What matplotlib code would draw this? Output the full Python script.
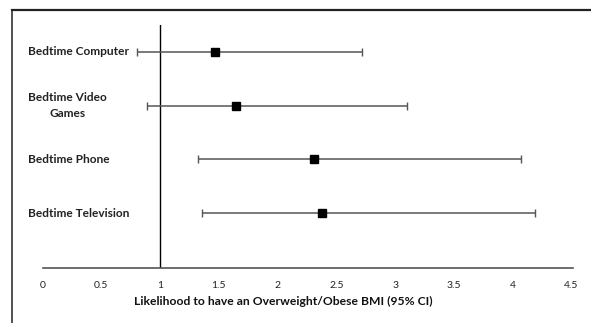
import matplotlib.pyplot as plt
from matplotlib.lines import Line2D

# forest plot data: odds ratio with 95% CI
labels = ['Bedtime Computer', 'Bedtime Video\nGames', 'Bedtime Phone', 'Bedtime Television']
odds = [1.47, 1.65, 2.31, 2.38]
ci_low = [0.80, 0.89, 1.32, 1.36]
ci_high = [2.72, 3.10, 4.07, 4.19]
xticks = [0, 0.5, 1, 1.5, 2, 2.5, 3, 3.5, 4, 4.5]

fig = plt.figure(figsize=(5.91, 3.23), dpi=100)
ax = fig.add_axes([42.7 / 591, 1 - 268 / 323, (573 - 42.7) / 591, (268 - 25) / 323])

ypos = [4, 3, 2, 1]
xerr = [[o - l for o, l in zip(odds, ci_low)], [h - o for o, h in zip(odds, ci_high)]]
ax.errorbar(odds, ypos, xerr=xerr, fmt='s', color='black', markersize=6.3,
            ecolor='#555555', elinewidth=1.1, capsize=3.2, capthick=1.0, zorder=3)

ax.axvline(1, color='black', linewidth=1.0, zorder=2)
ax.set_xlim(0, 4.515)
ax.set_ylim(-0.02, 4.5)

for s in ['top', 'right', 'left']:
    ax.spines[s].set_visible(False)
ax.spines['bottom'].set_color('#555555')
ax.spines['bottom'].set_linewidth(1.2)

ax.set_yticks([])
ax.set_xticks(xticks)
ax.set_xticklabels([f'{t:g}' for t in xticks], fontsize=7.5, family='Lato', color='#222222')
ax.tick_params(axis='x', length=0, pad=9)

for lab, y in zip(labels, ypos):
    ax.text(28 / 591, ax.transData.transform((0, y))[1] / fig.bbox.height, lab,
            transform=fig.transFigure, ha='left', va='center', multialignment='center',
            fontsize=8.6, fontweight='bold', family='Lato', color='#222222', linespacing=1.6)

fig.text(283 / 591, 1 - 301 / 323, 'Likelihood to have an Overweight/Obese BMI (95% CI)',
         ha='center', va='center', fontsize=8.7, fontweight='bold', family='Lato', color='#111111')

# outer frame (left and top edges only)
fig.add_artist(Line2D([12 / 591, 12 / 591], [0, 1 - 10 / 323], transform=fig.transFigure,
                      color='#333333', linewidth=1.2))
fig.add_artist(Line2D([12 / 591, 1], [1 - 10 / 323, 1 - 10 / 323], transform=fig.transFigure,
                      color='#222222', linewidth=1.6))

fig.savefig('out.png', dpi=100)
